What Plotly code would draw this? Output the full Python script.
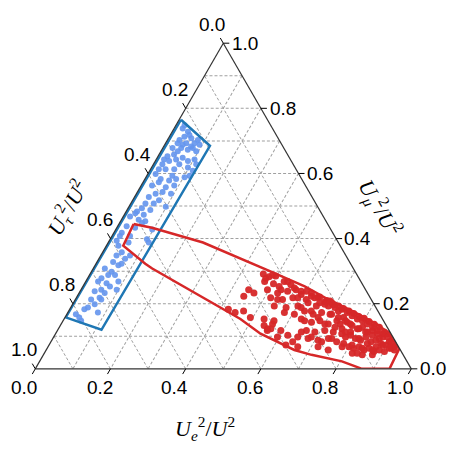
import math
import plotly.graph_objects as go

# points are given as (U_e^2/U^2, U_mu^2/U^2); U_tau^2/U^2 = 1 - e - mu
blue_e = [0.023, 0.042, 0.040, 0.061, 0.032, 0.055, 0.077, 0.093, 0.080, 0.069,
          0.049, 0.081, 0.051, 0.048, 0.032, 0.025, 0.040, 0.021, 0.037, 0.053,
          0.068, 0.087, 0.102, 0.024, 0.022, 0.040, 0.063, 0.097, 0.115, 0.114,
          0.103, 0.068, 0.021, 0.042, 0.067, 0.083, 0.042, 0.029, 0.068, 0.088,
          0.067, 0.051, 0.038, 0.092, 0.070, 0.039, 0.061, 0.098, 0.037, 0.062,
          0.029, 0.052, 0.027, 0.018, 0.066, 0.046, 0.097, 0.024, 0.049, 0.021,
          0.098, 0.021, 0.108, 0.020, 0.054, 0.032, 0.051, 0.042, 0.078, 0.043,
          0.062, 0.068, 0.031, 0.054, 0.050, 0.068, 0.037, 0.087, 0.058, 0.033,
          0.072, 0.054, 0.095, 0.039, 0.068, 0.062, 0.042, 0.069, 0.059, 0.046,
          0.039, 0.080, 0.024, 0.038, 0.048, 0.023, 0.073, 0.094, 0.045, 0.026,
          0.069, 0.114, 0.060, 0.048, 0.070]
blue_mu = [0.738, 0.728, 0.713, 0.708, 0.703, 0.693, 0.693, 0.688, 0.678, 0.673,
           0.678, 0.703, 0.718, 0.688, 0.693, 0.653, 0.658, 0.643, 0.638, 0.643,
           0.648, 0.638, 0.643, 0.628, 0.613, 0.613, 0.613, 0.618, 0.608, 0.593,
           0.588, 0.593, 0.598, 0.583, 0.578, 0.583, 0.573, 0.563, 0.558, 0.563,
           0.543, 0.538, 0.528, 0.538, 0.518, 0.508, 0.508, 0.498, 0.493, 0.488,
           0.483, 0.473, 0.478, 0.468, 0.453, 0.458, 0.428, 0.438, 0.433, 0.418,
           0.398, 0.408, 0.388, 0.393, 0.388, 0.378, 0.358, 0.348, 0.348, 0.328,
           0.318, 0.323, 0.308, 0.298, 0.288, 0.288, 0.278, 0.268, 0.263, 0.268,
           0.253, 0.243, 0.243, 0.238, 0.233, 0.218, 0.213, 0.213, 0.198, 0.188,
           0.183, 0.173, 0.168, 0.158, 0.148, 0.748, 0.683, 0.668, 0.668, 0.678,
           0.628, 0.628, 0.448, 0.408, 0.338]

red_e = [0.461, 0.480, 0.497, 0.476, 0.503, 0.522, 0.528, 0.551, 0.496, 0.528,
         0.552, 0.572, 0.517, 0.551, 0.576, 0.593, 0.539, 0.573, 0.602,
         0.602, 0.623, 0.642, 0.667, 0.624, 0.651, 0.683, 0.694, 0.627, 0.655,
         0.675, 0.700, 0.717, 0.631, 0.663, 0.683, 0.710, 0.728, 0.741, 0.662,
         0.687, 0.711, 0.736, 0.754, 0.649, 0.679, 0.708, 0.733, 0.760, 0.776,
         0.618, 0.646, 0.670, 0.687, 0.710, 0.727, 0.745, 0.762, 0.780, 0.797,
         0.815, 0.833, 0.851, 0.872, 0.883, 0.904, 0.923, 0.915, 0.896,
         0.742, 0.758, 0.776, 0.795, 0.806, 0.827, 0.838, 0.856, 0.875, 0.768,
         0.787, 0.805, 0.821, 0.830, 0.851, 0.862, 0.880, 0.781, 0.800, 0.815,
         0.827, 0.845, 0.856, 0.874, 0.886, 0.902, 0.900, 0.926, 0.819, 0.848,
         0.875,
         0.532, 0.562, 0.556, 0.594, 0.620, 0.595, 0.643, 0.630, 0.664,
         0.474, 0.487, 0.446, 0.465, 0.443, 0.422, 0.445, 0.465, 0.493, 0.542,
         0.565, 0.558, 0.561, 0.576, 0.538, 0.532, 0.537,
         0.565, 0.588, 0.589, 0.614, 0.634, 0.655, 0.671, 0.680, 0.703, 0.724,
         0.743, 0.761, 0.780, 0.796, 0.814, 0.833, 0.851, 0.870, 0.888, 0.905,
         0.921, 0.868, 0.845, 0.822, 0.799, 0.769, 0.751, 0.727, 0.704, 0.645,
         0.613, 0.605, 0.642, 0.673, 0.701, 0.733, 0.761, 0.782, 0.814, 0.844,
         0.872, 0.887, 0.910, 0.868, 0.838, 0.806, 0.742, 0.720, 0.685, 0.651,
         0.718, 0.750, 0.782, 0.832]
red_mu = [0.291, 0.283, 0.285, 0.268, 0.261, 0.253, 0.268, 0.258, 0.243, 0.233,
          0.238, 0.243, 0.218, 0.213, 0.218, 0.228, 0.193, 0.188, 0.193,
          0.238, 0.223, 0.220, 0.206, 0.203, 0.193, 0.193, 0.197, 0.178, 0.168,
          0.173, 0.168, 0.178, 0.153, 0.143, 0.148, 0.138, 0.148, 0.158, 0.118,
          0.113, 0.118, 0.113, 0.123, 0.098, 0.093, 0.088, 0.093, 0.083, 0.098,
          0.233, 0.221, 0.210, 0.203, 0.193, 0.185, 0.178, 0.170, 0.161, 0.155,
          0.145, 0.137, 0.128, 0.113, 0.108, 0.093, 0.073, 0.063, 0.073,
          0.138, 0.143, 0.133, 0.123, 0.128, 0.113, 0.118, 0.108, 0.098, 0.113,
          0.103, 0.093, 0.088, 0.098, 0.083, 0.088, 0.078, 0.078, 0.068, 0.063,
          0.068, 0.058, 0.063, 0.053, 0.058, 0.053, 0.083, 0.058, 0.048, 0.043,
          0.043,
          0.153, 0.138, 0.123, 0.118, 0.103, 0.098, 0.083, 0.073, 0.068,
          0.278, 0.288, 0.243, 0.233, 0.223, 0.183, 0.173, 0.178, 0.158, 0.133,
          0.123, 0.118, 0.148, 0.173, 0.213, 0.243, 0.268,
          0.248, 0.238, 0.218, 0.213, 0.218, 0.203, 0.198, 0.208, 0.188, 0.183,
          0.173, 0.163, 0.153, 0.148, 0.138, 0.128, 0.118, 0.108, 0.098, 0.083,
          0.068, 0.093, 0.103, 0.113, 0.123, 0.138, 0.148, 0.158, 0.168, 0.178,
          0.188, 0.168, 0.148, 0.158, 0.138, 0.128, 0.108, 0.113, 0.093, 0.078,
          0.068, 0.073, 0.063, 0.058, 0.063, 0.073, 0.093, 0.083, 0.098, 0.113,
          0.068, 0.058, 0.068, 0.048]

# outlines drawn around the two groups
blue_box_e = [0.005, 0.122, 0.116, 0.002, 0.005]
blue_box_mu = [0.765, 0.685, 0.120, 0.158, 0.765]
red_poly_e = [0.039, 0.094, 0.252, 0.466, 0.590, 0.673, 0.765, 0.848, 0.894, 0.937,
              0.942, 0.869, 0.804, 0.713, 0.660, 0.545, 0.469, 0.157, 0.131, 0.045, 0.039]
red_poly_mu = [0.445, 0.433, 0.388, 0.303, 0.253, 0.213, 0.173, 0.133, 0.103, 0.063,
               0.000, 0.000, 0.023, 0.043, 0.058, 0.108, 0.153, 0.308, 0.323, 0.378, 0.445]

tick_vals = [0.0, 0.2, 0.4, 0.6, 0.8, 1.0]
grid_vals = [0.1, 0.2, 0.3, 0.4, 0.5, 0.6, 0.7, 0.8, 0.9]


def tern(e, mu):
    # a = mu (top), b = tau (bottom left), c = e (bottom right)
    return dict(a=list(mu), b=[1 - x - y for x, y in zip(e, mu)], c=list(e))


W = 457
dom_x = [0.0597, 0.8825]
dom_y = [0.1867, 0.9467]
# plotly fits an equilateral triangle of full domain width, centred in the domain
L = (dom_x[1] - dom_x[0]) * W
H = L * math.sqrt(3) / 2
x0 = dom_x[0] * W
yb = (1 - (dom_y[0] + dom_y[1]) / 2) * W + H / 2


def to_paper(e, mu):
    return (x0 + L * (e + mu / 2)) / W, 1 - (yb - H * mu) / W


fig = go.Figure()

fig.add_trace(go.Scatterternary(**tern(blue_e, blue_mu), mode="markers",
                                marker=dict(size=6, color="#6495ED", opacity=0.9)))
fig.add_trace(go.Scatterternary(**tern(blue_box_e, blue_box_mu), mode="lines",
                                line=dict(color="#1f77b4", width=2.5)))
fig.add_trace(go.Scatterternary(**tern(red_e, red_mu), mode="markers",
                                marker=dict(size=7, color="#d62728", opacity=0.95)))
fig.add_trace(go.Scatterternary(**tern(red_poly_e, red_poly_mu), mode="lines",
                                line=dict(color="#d62728", width=2.5)))

# tick marks and labels pushed outward along the grid direction
d_tick = 0.016
d_lab = 0.058
lab_font = dict(family="Liberation Sans", size=19, color="black")
shapes, annotations = [], []
for v in tick_vals:
    t = "%.1f" % v
    sides = [
        ((v, 0), (v, -d_tick), (v, -d_lab)),                                  # bottom: e
        ((0, 1 - v), (-d_tick, 1 - v + d_tick), (-d_lab, 1 - v + d_lab)),     # left: tau
        ((1 - v, v), (1 - v + d_tick, v), (1 - v + d_lab, v)),                # right: mu
    ]
    for p_edge, p_tick, p_lab in sides:
        xa, ya = to_paper(*p_edge)
        xb, yb2 = to_paper(*p_tick)
        shapes.append(dict(type="line", xref="paper", yref="paper", x0=xa, y0=ya, x1=xb, y1=yb2,
                           line=dict(color="black", width=1)))
        xl, yl = to_paper(*p_lab)
        annotations.append(dict(text=t, x=xl, y=yl, xref="paper", yref="paper",
                                xanchor="center", yanchor="middle", showarrow=False, font=lab_font))

title_font = dict(family="Liberation Serif", size=22, color="black")
titles = [
    ("<i>U</i><sub><i>e</i></sub><sup>2</sup>/<i>U</i><sup>2</sup>", 197, 420, 0),
    ("<i>U</i><sub><i>τ</i></sub><sup>2</sup>/<i>U</i><sup>2</sup>", 59, 200, -60),
    ("<i>U</i><sub><i>μ</i></sub><sup>2</sup>/<i>U</i><sup>2</sup>", 372, 199, 60),
]
for text, px, py, ang in titles:
    annotations.append(dict(text=text, x=px / W, y=1 - py / W, xref="paper", yref="paper",
                            xanchor="center", yanchor="middle", showarrow=False,
                            font=title_font, textangle=ang))

axis_style = dict(title=dict(text=""), showticklabels=False, ticks="",
                  tickmode="array", tickvals=grid_vals,
                  showgrid=True, gridcolor="#a0a0a0", gridwidth=0.6, griddash="3px,2px",
                  linecolor="#333333", linewidth=1.2)

fig.update_layout(
    width=W, height=W,
    margin=dict(l=0, r=0, t=0, b=0),
    paper_bgcolor="white",
    showlegend=False,
    ternary=dict(domain=dict(x=dom_x, y=dom_y), bgcolor="white", sum=1,
                 aaxis=axis_style, baxis=axis_style, caxis=axis_style),
    shapes=shapes,
    annotations=annotations,
)

fig.write_html("out.html")
